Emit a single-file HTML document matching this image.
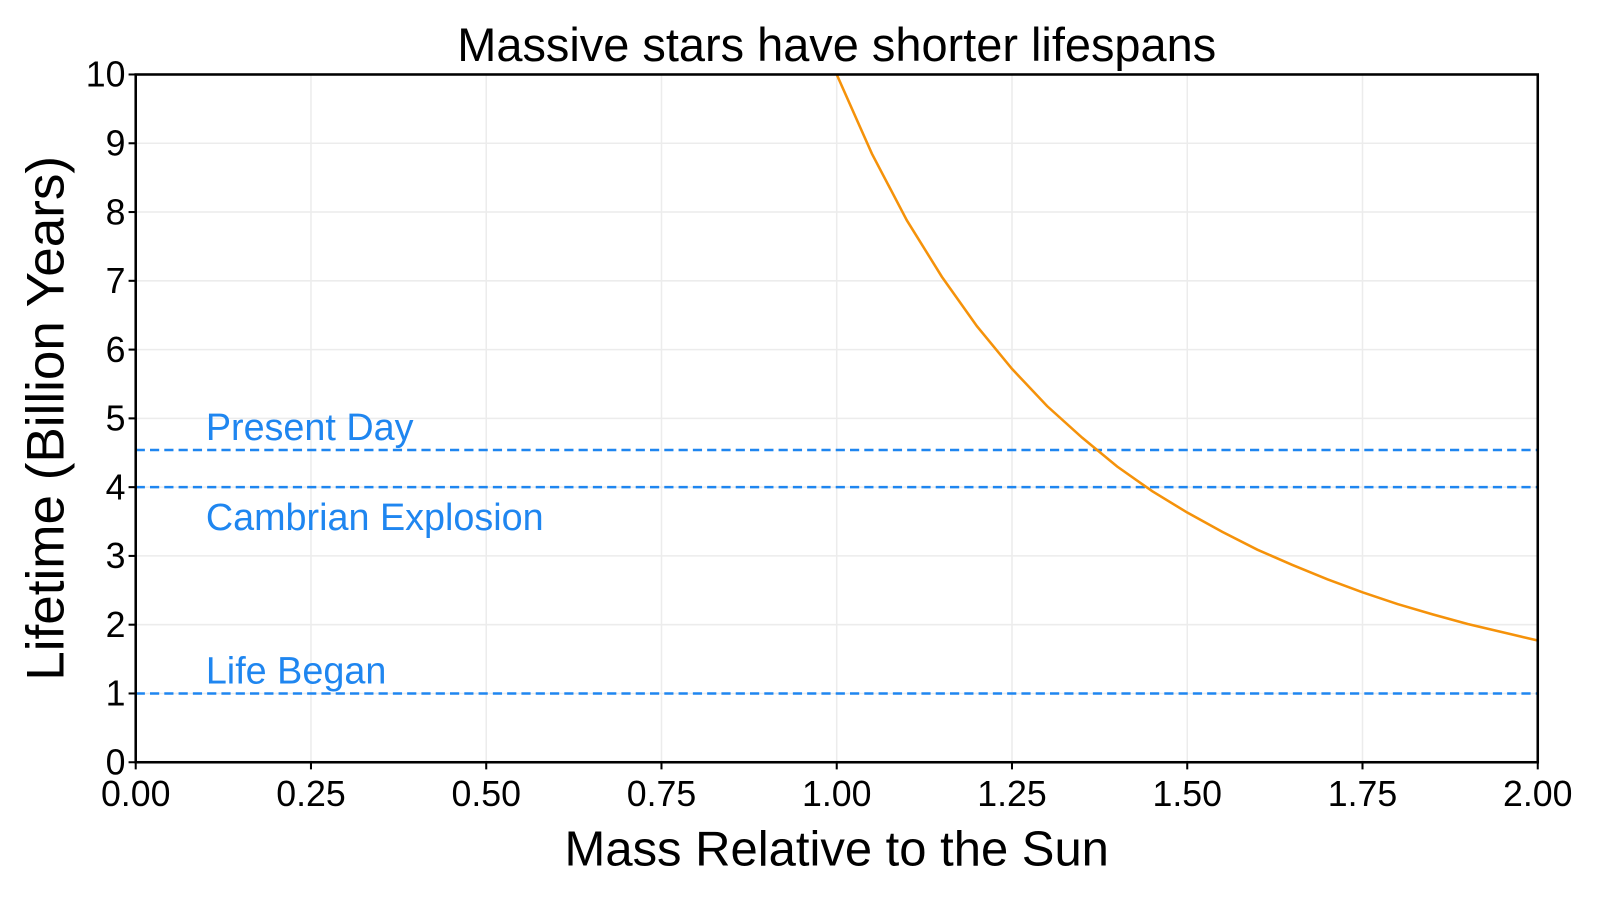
<!DOCTYPE html>
<html><head><meta charset="utf-8"><style>
html,body{margin:0;padding:0;background:#fff;}
svg{display:block;font-family:"Comic Sans MS","Liberation Sans",sans-serif;}
</style></head><body>
<svg id="chart" width="1600" height="900" viewBox="0 0 1568 882" xmlns="http://www.w3.org/2000/svg">
<text x="820" y="60" font-size="46" text-anchor="middle" fill="#000">Massive stars have shorter lifespans</text>
<g id="grid"></g>
<g id="refs"></g>
<g id="series"></g>
<rect x="133" y="73" width="1374" height="674" fill="none" stroke="#000" stroke-width="2.5"/>
<g id="axes"></g>
<text x="820" y="848" font-size="48" text-anchor="middle" fill="#000">Mass Relative to the Sun</text>
<text transform="translate(62,410) rotate(-90)" font-size="52" text-anchor="middle" fill="#000">Lifetime (Billion Years)</text>
</svg>
<script>
const masses=[1.00,1.05,1.10,1.15,1.20,1.25,1.30,1.35,1.40,1.45,1.50,1.55,1.60,1.65,1.70,1.75,1.80,1.85,1.90,1.95,2.00];
const lifetimes=[10,8.85,7.88,7.06,6.34,5.72,5.18,4.72,4.30,3.94,3.63,3.35,3.09,2.87,2.66,2.47,2.30,2.15,2.01,1.89,1.77];
const refValues=[4.54,4.0,1.0];
const refLabels=["Present Day","Cambrian Explosion","Life Began"];
const xTicks=[0,0.25,0.5,0.75,1.0,1.25,1.5,1.75,2.0];
const xTickLabels=["0.00","0.25","0.50","0.75","1.00","1.25","1.50","1.75","2.00"];
const yTicks=[0,1,2,3,4,5,6,7,8,9,10];
const NS="http://www.w3.org/2000/svg";
const X0=133,X1=1507,Y0=747,Y1=73;
const sx=v=>X0+(v-0)/(2-0)*(X1-X0);
const sy=v=>Y0-(v-0)/(10-0)*(Y0-Y1);
function mk(tag,attrs,parent){const e=document.createElementNS(NS,tag);for(const k in attrs)e.setAttribute(k,attrs[k]);parent.appendChild(e);return e;}
const grid=document.getElementById('grid'),axes=document.getElementById('axes'),refs=document.getElementById('refs'),series=document.getElementById('series');
xTicks.forEach((t,i)=>{
 const g=mk('line',{x1:sx(t),x2:sx(t),y1:Y1,y2:Y0,stroke:'#ececec','stroke-width':1.5},grid);
 
 
 const tk=mk('line',{x1:sx(t),x2:sx(t),y1:Y0,y2:Y0+7,stroke:'#000','stroke-width':2},axes);
 
 
 const tx=mk('text',{x:sx(t),y:Y0+43,'font-size':35,'text-anchor':'middle',fill:'#000'},axes);
 tx.textContent=xTickLabels[i];
 
 
});
yTicks.forEach(t=>{
 const g=mk('line',{x1:X0,x2:X1,y1:sy(t),y2:sy(t),stroke:'#ececec','stroke-width':1.5},grid);
 
 
 const tk=mk('line',{x1:X0-7,x2:X0,y1:sy(t),y2:sy(t),stroke:'#000','stroke-width':2},axes);
 
 
 const tx=mk('text',{x:X0-10,y:sy(t)+12,'font-size':35,'text-anchor':'end',fill:'#000'},axes);
 tx.textContent=String(t);
 
 
});
refValues.forEach((v,i)=>{
 const l=mk('line',{x1:X0,x2:X1,y1:sy(v),y2:sy(v),stroke:'#1f86f0','stroke-width':2.5,'stroke-dasharray':'9,5'},refs);
 
 
 const above=i!==1;
 const tx=mk('text',{x:sx(0.1),y:above?sy(v)-10:sy(v)+42,'font-size':37,fill:'#1f86f0'},refs);
 tx.textContent=refLabels[i];
 
 
});
const d=masses.map((m,i)=>(i?'L':'M')+sx(m).toFixed(1)+','+sy(lifetimes[i]).toFixed(1)).join(' ');
const p=mk('path',{d:d,fill:'none',stroke:'#f5920a','stroke-width':2.5},series);


</script>
</body></html>
